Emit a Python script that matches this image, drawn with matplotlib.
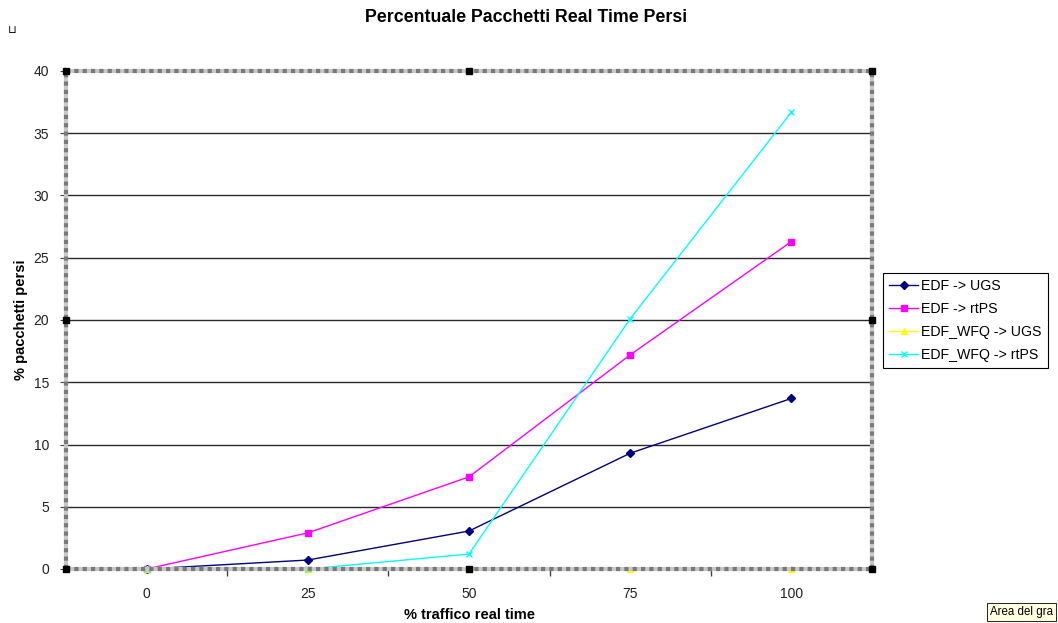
import matplotlib
matplotlib.use("Agg")
import matplotlib.pyplot as plt

plt.rcParams['font.family'] = ['Liberation Sans', 'DejaVu Sans']

# Data
traffico = [0, 25, 50, 75, 100]
edf_ugs = [0.0, 0.72, 3.05, 9.3, 13.7]
edf_rtps = [0.0, 2.9, 7.4, 17.2, 26.3]
wfq_ugs = [0.0, 0.0, 0.0, 0.0, 0.0]
wfq_rtps = [0.0, 0.0, 1.2, 20.1, 36.7]
series_names = ["EDF -> UGS", "EDF -> rtPS", "EDF_WFQ -> UGS", "EDF_WFQ -> rtPS"]
y_ticks = [0, 5, 10, 15, 20, 25, 30, 35, 40]

W, H = 1058, 623
fig = plt.figure(figsize=(W / 100, H / 100), dpi=100)
fig.patch.set_facecolor("white")

ax = fig.add_axes([66 / W, 1 - 569 / H, (872 - 66) / W, (569 - 71) / H])
ax.set_xlim(-12.5, 112.5)
ax.set_ylim(0, 40)

# horizontal gridlines
for v in y_ticks[1:-1]:
    ax.axhline(v, color="#2a2a2a", lw=1.0, zorder=1)

styles = [
    (edf_ugs, "#000080", "D", 4.5, 1),
    (edf_rtps, "#ff00ff", "s", 5, 1),
    (wfq_ugs, "#ffff00", "^", 5, 1),
    (wfq_rtps, "#00ffff", "x", 5, 1),
]
handles = []
for (vals, col, mk, ms, lw), name in zip(styles, series_names):
    h, = ax.plot(traffico, vals, color=col, marker=mk, markersize=ms, lw=lw,
                 markeredgewidth=1, label=name, zorder=3, clip_on=False)
    handles.append(h)

# hatched border of the selected plot area
for side in ["left", "right", "top", "bottom"]:
    ax.spines[side].set_visible(False)
border = dict(transform=ax.transAxes, clip_on=False, zorder=4)
for xs, ys in [([0, 1], [0, 0]), ([0, 1], [1, 1]), ([0, 0], [0, 1]), ([1, 1], [0, 1])]:
    ax.plot(xs, ys, color="#c8c8c8", lw=3.0, solid_capstyle="butt", **border)
    ax.plot(xs, ys, color="#7a7a7a", lw=3.0, linestyle=(0, (1, 1)), **border)

# selection handles
for hx, hy in [(0, 0), (0.5, 0), (1, 0), (0, 0.5), (1, 0.5), (0, 1), (0.5, 1), (1, 1)]:
    ax.plot([hx], [hy], marker="s", markersize=4.5, color="black",
            markeredgecolor="black", transform=ax.transAxes, clip_on=False, zorder=5)

ax.set_yticks(y_ticks)
ax.set_xticks(traffico)
ax.set_xticks([12.5, 37.5, 62.5, 87.5], minor=True)
ax.tick_params(axis="x", which="major", length=0, pad=13, labelsize=10, labelcolor="#222222")
ax.tick_params(axis="x", which="minor", length=5, direction="out", color="#444444", width=1)
ax.tick_params(axis="y", length=4, direction="out", pad=8, labelsize=10,
               labelcolor="#222222", color="#444444")

fig.text(526 / W, 1 - 18 / H, "Percentuale Pacchetti Real Time Persi",
         ha="center", va="center", fontsize=12.8, fontweight="bold")
fig.text(469 / W, 1 - 615 / H, "% traffico real time",
         ha="center", va="center", fontsize=10.5, fontweight="bold")
fig.text(21 / W, 1 - 320 / H, "% pacchetti persi", rotation=90,
         ha="center", va="center", fontsize=10.5, fontweight="bold")

leg = fig.legend(handles=handles, loc="upper left",
                 bbox_to_anchor=(883 / W, 1 - 273 / H), fontsize=10.2,
                 frameon=True, fancybox=False, framealpha=1, edgecolor="black",
                 borderpad=0.45, labelspacing=0.62, handlelength=2.0,
                 handletextpad=0.25, borderaxespad=0)
leg.get_frame().set_linewidth(0.8)

# small anchor glyph at top-left and tooltip at bottom-right
fig.text(12 / W, 1 - 30 / H, "\u2294", fontsize=8, ha="center", va="center",
         family="DejaVu Sans")
fig.text(990 / W, 1 - 612 / H, "Area del gra", fontsize=8.3, ha="left", va="center",
         bbox=dict(boxstyle="square,pad=0.25", facecolor="#ffffe1",
                   edgecolor="black", linewidth=0.6))

fig.savefig("out.png", dpi=100)
